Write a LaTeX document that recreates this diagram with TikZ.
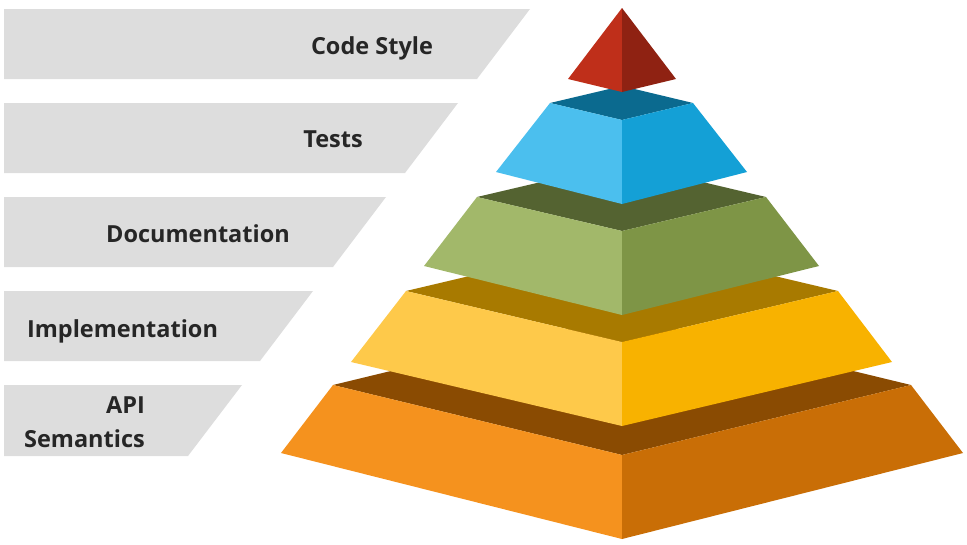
\documentclass[tikz,border=0pt]{standalone}
\usepackage{fontspec}
\setmainfont{Open Sans}
\definecolor{barcol}{HTML}{DDDDDD}
\definecolor{txtcol}{HTML}{262626}
\definecolor{redL}{HTML}{BF2F1A}
\definecolor{redR}{HTML}{8F2212}
\definecolor{bluL}{HTML}{4BBFEE}
\definecolor{bluR}{HTML}{14A0D6}
\definecolor{bluT}{HTML}{0B6A8F}
\definecolor{grnL}{HTML}{A2B86A}
\definecolor{grnR}{HTML}{7E9546}
\definecolor{grnT}{HTML}{546331}
\definecolor{yelL}{HTML}{FEC94A}
\definecolor{yelR}{HTML}{F8B200}
\definecolor{yelT}{HTML}{A87A00}
\definecolor{orgL}{HTML}{F5921E}
\definecolor{orgR}{HTML}{C96E06}
\definecolor{orgT}{HTML}{8A4B02}
\tikzset{
  lbl/.style={inner sep=0pt, text=txtcol, font=\fontsize{23.5}{28}\selectfont\bfseries},
  bar/.style={fill=barcol},
}
\begin{document}
\begin{tikzpicture}[x=1pt,y=-1pt]
\useasboundingbox (0,0) rectangle (967,544);
% grey bars
\fill[bar] (4,9) -- (530,9) -- (477,79) -- (4,79) -- cycle;
\fill[bar] (4,103) -- (458,103) -- (405,173) -- (4,173) -- cycle;
\fill[bar] (4,197) -- (386,197) -- (333,267) -- (4,267) -- cycle;
\fill[bar] (4,291) -- (313,291) -- (260,361) -- (4,361) -- cycle;
\fill[bar] (4,385) -- (242,385) -- (188,456) -- (4,456) -- cycle;
% labels
\node[lbl, anchor=base] (cs) at (372,54) {Code Style};
\node[lbl, anchor=base] (ts) at (333,147) {Tests};
\node[lbl, anchor=base] (dc) at (198,242) {Documentation};
\node[lbl, anchor=base] (im) at (122.5,337) {Implementation};
\node[lbl, anchor=base east] (api) at (145,413) {API};
\node[lbl, anchor=base east] (sem) at (145,447) {Semantics};
% orange tier
\fill[orgT] (333,385) -- (622,315) -- (911,385) -- (622,455) -- cycle;
\fill[orgL] (333,385) -- (622,455) -- (622,539) -- (281,453) -- cycle;
\fill[orgR] (911,385) -- (622,455) -- (622,539) -- (963,453) -- cycle;
% yellow tier
\fill[yelT] (406,291) -- (622,240) -- (838,291) -- (622,342) -- cycle;
\fill[yelL] (406,291) -- (622,342) -- (622,426) -- (351,362) -- cycle;
\fill[yelR] (838,291) -- (622,342) -- (622,426) -- (892,362) -- cycle;
% green tier
\fill[grnT] (477,197) -- (622,163) -- (766,197) -- (622,231) -- cycle;
\fill[grnL] (477,197) -- (622,231) -- (622,315) -- (424,266) -- cycle;
\fill[grnR] (766,197) -- (622,231) -- (622,315) -- (819,266) -- cycle;
% blue tier
\fill[bluT] (550,103) -- (622,86) -- (693,103) -- (622,120) -- cycle;
\fill[bluL] (550,103) -- (622,120) -- (622,204) -- (496,172) -- cycle;
\fill[bluR] (693,103) -- (622,120) -- (622,204) -- (747,172) -- cycle;
% red top
\fill[redL] (622,8) -- (622,92) -- (568,79) -- cycle;
\fill[redR] (622,8) -- (622,92) -- (676,79) -- cycle;
\end{tikzpicture}
\end{document}
